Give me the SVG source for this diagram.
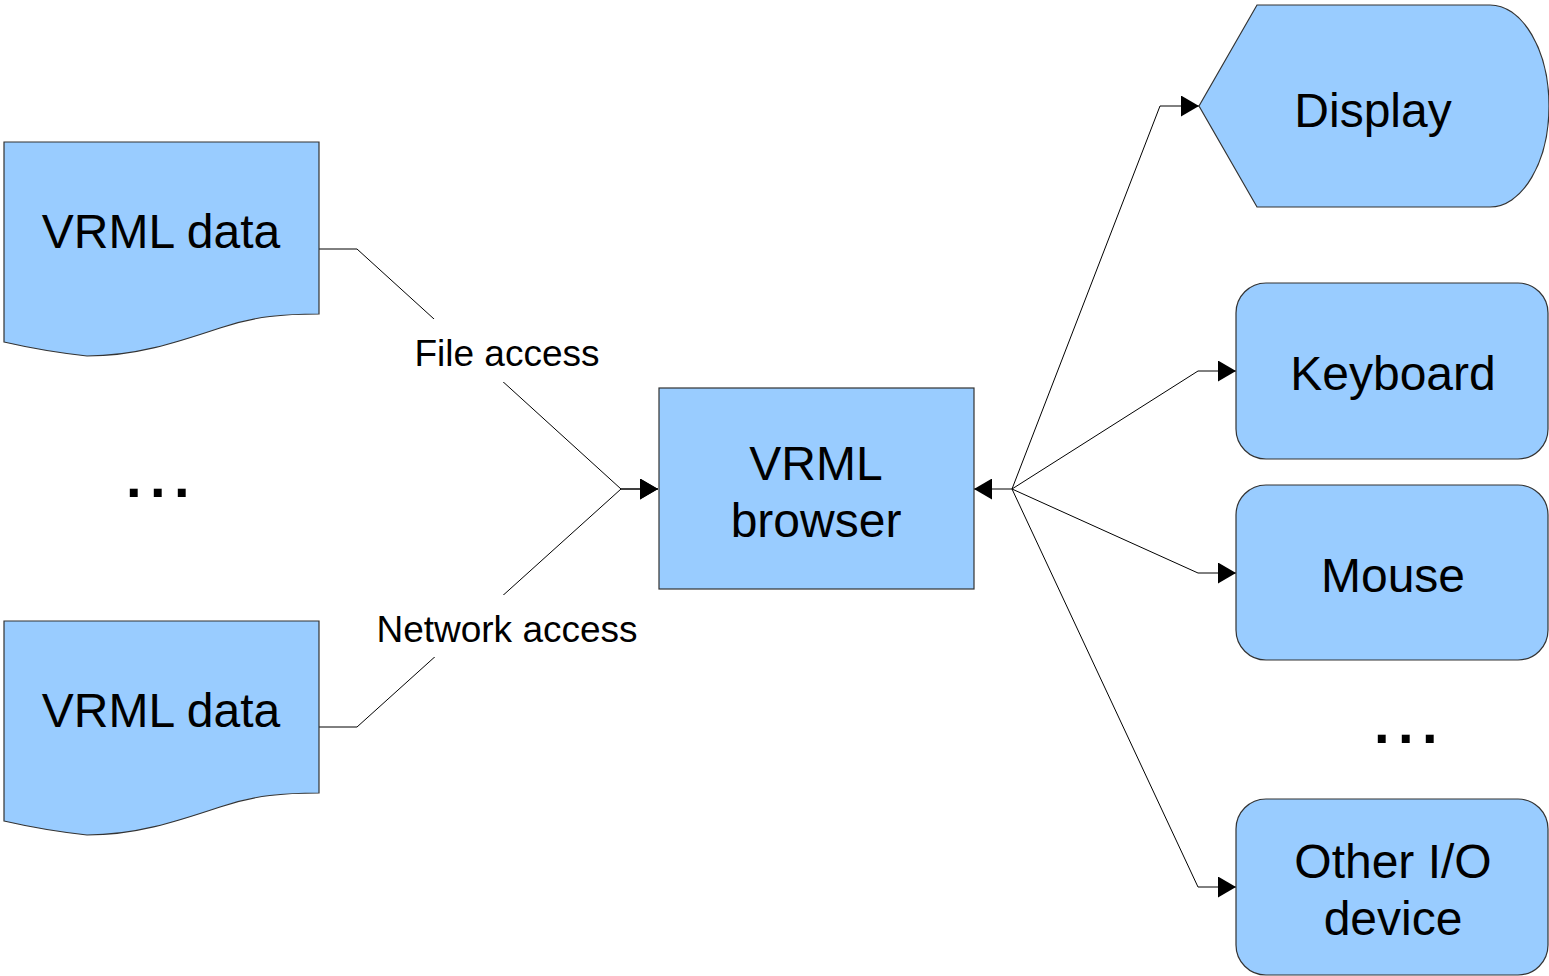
<svg xmlns="http://www.w3.org/2000/svg" width="1549" height="976" viewBox="0 0 1549 976">
<defs>
<style>
.shape{fill:#99ccff;stroke:#333333;stroke-width:1.2}
.lbl{font-family:"Liberation Sans",Arial,sans-serif;font-size:48px;fill:#000;text-anchor:middle}
.clbl{font-family:"Liberation Sans",Arial,sans-serif;font-size:37px;fill:#000;text-anchor:middle}
.dots{font-family:"Liberation Sans",Arial,sans-serif;font-size:56px;font-weight:bold;fill:#000;letter-spacing:8.4px}
.conn{fill:none;stroke:#000;stroke-width:1}
</style>
<marker id="arr" markerUnits="userSpaceOnUse" markerWidth="18" markerHeight="21" refX="18" refY="10.5" orient="auto">
<path d="M0,0 L18,10.5 L0,21 Z" fill="#000"/>
</marker>
</defs>
<rect width="1549" height="976" fill="#fff"/>
<g id="connectors">
<polyline class="conn" points="319,249 357,249 621,489 658,489" marker-end="url(#arr)"/>
<polyline class="conn" points="319,727 357,727 621,489 658,489" marker-end="url(#arr)"/>
<polyline class="conn" points="1012,489 974,489" marker-end="url(#arr)"/>
<polyline class="conn" points="1012,489 1160,106 1199,106" marker-end="url(#arr)"/>
<polyline class="conn" points="1012,489 1198,371 1236,371" marker-end="url(#arr)"/>
<polyline class="conn" points="1012,489 1198,573 1236,573" marker-end="url(#arr)"/>
<polyline class="conn" points="1012,489 1198,887 1236,887" marker-end="url(#arr)"/>
<rect x="400" y="319" width="212" height="63" fill="#fff"/>
<rect x="366" y="595" width="282" height="62" fill="#fff"/>
<text class="clbl" x="507" y="366">File access</text>
<text class="clbl" x="507" y="642">Network access</text>
</g>
<g id="data1">
<path class="shape" d="M4,142 H319 V314 C285,314 255,316 220,328 C175,343 135,356 87,356 C60,353 30,348 4,342 Z"/>
<text class="lbl" x="161" y="248">VRML data</text>
</g>
<g id="data2">
<path class="shape" d="M4,621 H319 V793 C285,793 255,795 220,807 C175,822 135,835 87,835 C60,832 30,827 4,821 Z"/>
<text class="lbl" x="161" y="727">VRML data</text>
</g>
<g id="dots-left">
<text class="dots" x="126" y="497">...</text>
</g>
<g id="browser">
<rect class="shape" x="659" y="388" width="315" height="201"/>
<text class="lbl" x="816" y="480">VRML</text>
<text class="lbl" x="816" y="537">browser</text>
</g>
<g id="display">
<path class="shape" d="M1199,106 L1257,5 H1490 A59,101 0 0 1 1490,207 H1257 Z"/>
<text class="lbl" x="1373" y="127">Display</text>
</g>
<g id="keyboard">
<rect class="shape" x="1236" y="283" width="312" height="176" rx="30" ry="30"/>
<text class="lbl" x="1393" y="390">Keyboard</text>
</g>
<g id="mouse">
<rect class="shape" x="1236" y="485" width="312" height="175" rx="30" ry="30"/>
<text class="lbl" x="1393" y="592">Mouse</text>
</g>
<g id="dots-right">
<text class="dots" x="1374" y="743">...</text>
</g>
<g id="other">
<rect class="shape" x="1236" y="799" width="312" height="176" rx="30" ry="30"/>
<text class="lbl" x="1393" y="878">Other I/O</text>
<text class="lbl" x="1393" y="935">device</text>
</g>
</svg>
